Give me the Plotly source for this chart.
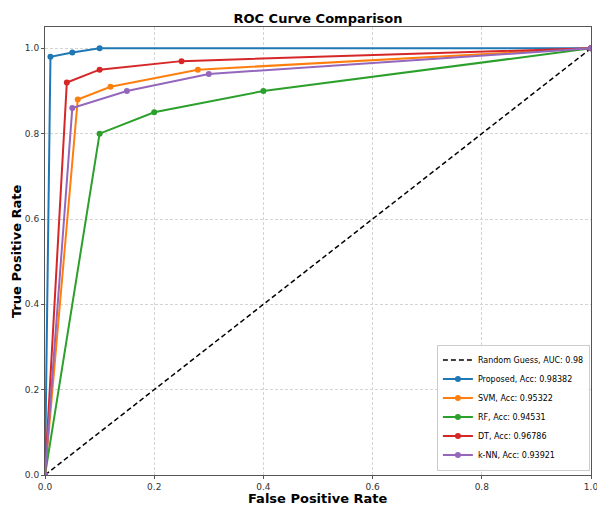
import plotly.graph_objects as go

random_x = [0, 1]
random_y = [0, 1]

prop_fpr = [0, 0.01, 0.05, 0.1, 1.0]
prop_tpr = [0, 0.98, 0.99, 1.0, 1.0]
svm_fpr = [0, 0.06, 0.12, 0.28, 1.0]
svm_tpr = [0, 0.88, 0.91, 0.95, 1.0]
rf_fpr = [0, 0.1, 0.2, 0.4, 1.0]
rf_tpr = [0, 0.8, 0.85, 0.9, 1.0]
dt_fpr = [0, 0.04, 0.1, 0.25, 1.0]
dt_tpr = [0, 0.92, 0.95, 0.97, 1.0]
knn_fpr = [0, 0.05, 0.15, 0.3, 1.0]
knn_tpr = [0, 0.86, 0.9, 0.94, 1.0]

names = ["Proposed, Acc: 0.98382", "SVM, Acc: 0.95322", "RF, Acc: 0.94531",
         "DT, Acc: 0.96786", "k-NN, Acc: 0.93921"]
colors = ["#1f77b4", "#ff7f0e", "#2ca02c", "#d62728", "#9467bd"]
series = [(prop_fpr, prop_tpr), (svm_fpr, svm_tpr), (rf_fpr, rf_tpr),
          (dt_fpr, dt_tpr), (knn_fpr, knn_tpr)]

fig = go.Figure()
fig.add_trace(go.Scatter(x=random_x, y=random_y, mode="lines",
                         name="Random Guess, AUC: 0.98",
                         line=dict(color="black", dash="5px,3px", width=1.5)))
for (fx, ty), n, c in zip(series, names, colors):
    fig.add_trace(go.Scatter(x=fx, y=ty, mode="lines+markers", name=n,
                             line=dict(color=c, width=2),
                             marker=dict(color=c, size=6)))

axis_common = dict(
    showline=True, linecolor="#555555", linewidth=1, mirror=True,
    ticks="outside", ticklen=3, tickcolor="#555555",
    showgrid=True, gridcolor="#d4d4d4", griddash="3px,2px", gridwidth=0.8,
    zeroline=False, tickfont=dict(size=9, color="#333333"),
    tickformat=".1f", dtick=0.2, automargin=False,
    ticklabeloverflow="allow",
)
fig.update_layout(
    width=597, height=506,
    margin=dict(l=45, r=6, t=27, b=31),
    paper_bgcolor="white", plot_bgcolor="white",
    font=dict(family="DejaVu Sans", color="black"),
    title=dict(text="<b>ROC Curve Comparison</b>", x=0.5, xref="paper",
               xanchor="center", y=1 - 18.5 / 506, yanchor="middle",
               font=dict(size=13)),
    xaxis=dict(range=[0, 1], **axis_common),
    yaxis=dict(range=[0, 1.05], **axis_common),
    legend=dict(x=0.998, y=0.01, xanchor="right", yanchor="bottom",
                bgcolor="rgba(255,255,255,0.9)", bordercolor="#cccccc",
                borderwidth=1, font=dict(size=8), tracegroupgap=0,
                itemwidth=30),
    showlegend=True,
    annotations=[
        dict(text="<b>False Positive Rate</b>", xref="paper", yref="paper",
             x=0.5, y=0, yanchor="middle", xanchor="center",
             yshift=-23, showarrow=False, font=dict(size=13)),
        dict(text="<b>True Positive Rate</b>", xref="paper", yref="paper",
             x=0, xshift=-29, y=0.5, xanchor="center", yanchor="middle",
             textangle=-90, showarrow=False, font=dict(size=13)),
    ],
)
fig.write_html("out.html", config={"displayModeBar": False},
               post_script="document.body.style.margin='0';"
                           "document.body.style.overflow='hidden';")
